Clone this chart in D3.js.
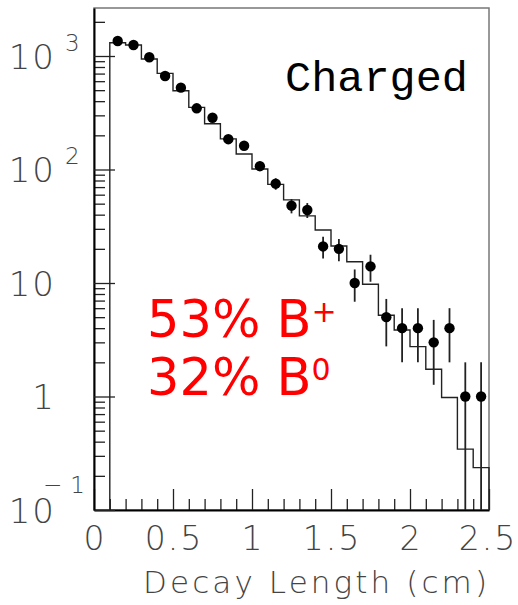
<!DOCTYPE html>
<html><head><meta charset="utf-8">
<script src="https://cdn.jsdelivr.net/npm/d3@7"></script>
<style>body{margin:0;background:#fff}</style>
</head><body><svg id="c" width="518" height="605"></svg>
<script>
// Data points (bin centres, counts)
const dataX = [0.15,0.25,0.35,0.45,0.55,0.65,0.75,0.85,0.95,1.05,1.15,1.25,1.35,1.45,1.55,1.65,1.75,1.85,1.95,2.05,2.15,2.25,2.35,2.45];
const dataN = [1355,1250,975,667,526,346,286,185,162,107,75,48,44,21,20,10,14,5,4,4,3,4,1,1];
// MC histogram (bin low edges, contents), bin width 0.1
const mcLo  = [0.1,0.2,0.3,0.4,0.5,0.6,0.7,0.8,0.9,1.0,1.1,1.2,1.3,1.4,1.5,1.6,1.7,1.8,1.9,2.0,2.1,2.2,2.3,2.4];
const mcVal = [1310,1250,942,703,494,353,253,186,137,101,74,54,39,29.3,21.2,15.4,9.75,5.2,3.85,2.75,1.74,0.98,0.344,0.236];
const binW = 0.1;
// Axis ticks
const xMajor = [0,0.5,1,1.5,2,2.5];
const xLabels = ["0","0.5","1","1.5","2","2.5"];
const yMajor = [0.1,1,10,100,1000];
const yBase = ["10","1","10","10","10"];
const yExp  = ["\u22121","","","2","3"];
const xTitle = "Decay Length (cm)";
const label = "Charged";
const frac = [{pct:"53% B", sup:"+"},{pct:"32% B", sup:"0"}];

const svg = d3.select("#c");
const L=94, R=489, T=8, B=510;
const x = d3.scaleLinear().domain([0,2.5]).range([L,R]);
const y = d3.scaleLog().domain([0.1,2648]).range([B,T]);

// frame
svg.append("rect").attr("x",L).attr("y",T).attr("width",R-L).attr("height",B-T)
  .attr("fill","none").attr("stroke","#777").attr("stroke-width",1.5);

// x axis
const xMinor = d3.range(0,2.5001,0.1).filter(v=>Math.abs(v*2-Math.round(v*2))>1e-6);
const gxm = svg.append("g").attr("transform",`translate(0,${B})`)
  .call(d3.axisBottom(x).tickValues(xMinor).tickSizeInner(-11).tickSizeOuter(0).tickFormat(""));
gxm.select(".domain").remove();
const gx = svg.append("g").attr("transform",`translate(0,${B})`)
  .call(d3.axisBottom(x).tickValues(xMajor).tickSizeInner(-21).tickSizeOuter(0).tickFormat(""));
gx.select(".domain").attr("stroke","#000").attr("stroke-width",2);

// y axis
const yMinor=[];
[0.1,1,10,100,1000].forEach(d=>{for(let k=2;k<=9;k++){const v=k*d; if(v<2648) yMinor.push(v);}});
const gym = svg.append("g").attr("transform",`translate(${L},0)`)
  .call(d3.axisLeft(y).tickValues(yMinor).tickSizeInner(-11).tickSizeOuter(0).tickFormat(""));
gym.select(".domain").remove();
const gy = svg.append("g").attr("transform",`translate(${L},0)`)
  .call(d3.axisLeft(y).tickValues(yMajor).tickSizeInner(-21).tickSizeOuter(0).tickFormat(""));
gy.select(".domain").attr("stroke","#000").attr("stroke-width",2);
svg.selectAll(".tick line").attr("stroke","#222").attr("stroke-width",1.3);

const thin = "DejaVu Sans, sans-serif";
// x tick labels
svg.append("g").selectAll("text").data(xMajor).join("text")
  .attr("x",(d,i)=>x(d)+(i===xMajor.length-1?-1:1)).attr("y",550).attr("text-anchor","middle")
  .attr("font-family",thin).attr("font-weight",200).attr("font-size",33)
  .attr("letter-spacing",2).attr("fill","#444")
  .text((d,i)=>xLabels[i]);

// y tick labels
const yl = svg.append("g");
yMajor.forEach((v,i)=>{
  const yy=y(v);
  yl.append("text").attr("x",56).attr("y",yy+12.5).attr("text-anchor","end")
    .attr("font-family",thin).attr("font-weight",200).attr("font-size",34)
    .attr("letter-spacing",2).attr("fill","#444").text(yBase[i]);
  if(yExp[i]){
    const neg = yExp[i].length>1;
    yl.append("text").attr("x",neg?43:65).attr("y",neg?yy-17:yy-5.5)
      .attr("font-family",thin).attr("font-weight",200).attr("font-size",23)
      .attr("letter-spacing",neg?8:0).attr("fill","#444").text(yExp[i]);
  }
});

// x title
svg.append("text").attr("x",487).attr("y",593).attr("text-anchor","end")
  .attr("font-family",thin).attr("font-weight",200).attr("font-size",31)
  .attr("fill","#444").attr("textLength",344).attr("lengthAdjust","spacing").text(xTitle);

// MC histogram
let p = `M${x(mcLo[0])},${B}`;
mcLo.forEach((lo,i)=>{ p += `L${x(lo)},${y(mcVal[i])}L${x(lo+binW)},${y(mcVal[i])}`; });
p += `L${x(mcLo[mcLo.length-1]+binW)},${B}`;
svg.append("path").attr("d",p).attr("fill","none").attr("stroke","#222").attr("stroke-width",1.4);

// error bars
svg.append("g").selectAll("line").data(dataN).join("line")
  .attr("x1",(d,i)=>x(dataX[i])).attr("x2",(d,i)=>x(dataX[i]))
  .attr("y1",d=>{const lo=d-Math.sqrt(d); return lo>0.1?y(lo):B;})
  .attr("y2",d=>y(d+Math.sqrt(d)))
  .attr("stroke","#222").attr("stroke-width",1.8);
// points
svg.append("g").selectAll("circle").data(dataN).join("circle")
  .attr("cx",(d,i)=>x(dataX[i])).attr("cy",d=>y(d)).attr("r",5.2).attr("fill","#000");

// Charged label
svg.append("text").attr("x",285).attr("y",91)
  .attr("font-family","'Courier New','Liberation Mono',monospace").attr("font-size",43)
  .attr("fill","#000").attr("textLength",183).attr("lengthAdjust","spacingAndGlyphs").text(label);

// red fractions
frac.forEach((f,i)=>{
  const t = svg.append("text").attr("x",147).attr("y",337+i*58)
    .attr("font-family","DejaVu Sans, sans-serif").attr("font-size",51).attr("fill","#ff0000");
  t.append("tspan").text(f.pct);
  t.append("tspan").attr("dy",-15).attr("font-size",30).text(f.sup);
});
</script></body></html>
